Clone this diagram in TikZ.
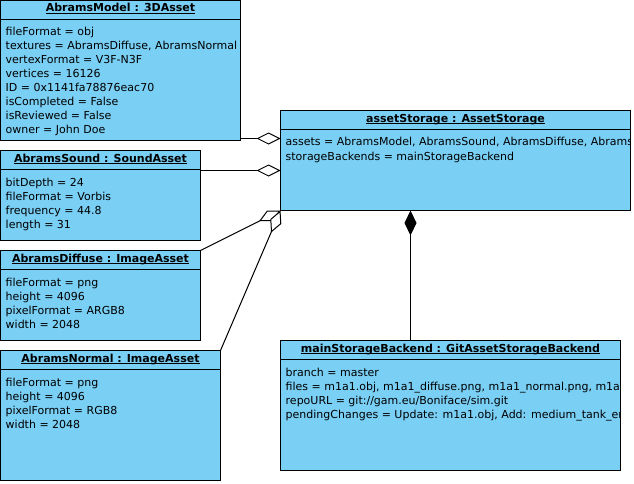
\documentclass[tikz,border=0pt]{standalone}
\usepackage{fontspec}
\setmainfont{DejaVu Sans}
\usetikzlibrary{arrows.meta,calc}
\definecolor{umlfill}{RGB}{122,207,245}
\newcommand\umlobj[6]{%
  \node[box, minimum width=#4pt, minimum height=#5pt] (#1) at (#2,#3) {};
  \draw[conn] ($(#1.north west)+(0,19)$) -- ($(#1.north east)+(0,19)$);
  \node[ttl] (#1-t) at ($(#1.north)+(0,11.5)$) {#6};
  \draw[line width=0.9pt] ([yshift=-1.3pt]#1-t.base west) -- ([yshift=-1.3pt]#1-t.base east);
}
\newcommand\umlattrs[2]{%
  \foreach \t [count=\i from 0] in {#2} {
    \node[attr] (#1-a\i) at ($(#1.north west)+(5,35.5+14*\i)$) {\t};
  }%
}
\begin{document}
\begin{tikzpicture}[x=1pt,y=-1pt,
  box/.style={draw=black, line width=1pt, fill=umlfill, inner sep=0pt, outer sep=0pt, anchor=north west},
  ttl/.style={font=\fontsize{11}{14}\selectfont\bfseries, inner sep=0pt, anchor=base},
  attr/.style={font=\fontsize{11}{14}\selectfont, inner sep=0pt, anchor=base west},
  conn/.style={line width=1pt, draw=black},
  agg/.style={conn, -{Diamond[open, fill=white, length=24pt, width=12pt]}},
  comp/.style={conn, -{Diamond[length=25pt, width=12pt]}}]
\useasboundingbox (0,0) rectangle (634,484);

\umlobj{model}{0.5}{0.5}{240}{140}{AbramsModel : 3DAsset}
\umlattrs{model}{{fileFormat = obj},{textures = AbramsDiffuse, AbramsNormal},{vertexFormat = V3F-N3F},{vertices = 16126},{ID = 0x1141fa78876eac70},{isCompleted = False},{isReviewed = False},{owner = John Doe}}

\umlobj{storage}{280.5}{110.5}{350}{100}{assetStorage : AssetStorage}
\begin{scope}
  \clip (storage.north west) rectangle (storage.south east);
  \umlattrs{storage}{{assets = AbramsModel, AbramsSound, AbramsDiffuse, AbramsNormal},{storageBackends = mainStorageBackend}}
\end{scope}

\umlobj{sound}{0.5}{150.5}{200}{90}{AbramsSound : SoundAsset}
\umlattrs{sound}{{bitDepth = 24},{fileFormat = Vorbis},{frequency = 44.8},{length = 31}}

\umlobj{diffuse}{0.5}{250.5}{200}{90}{AbramsDiffuse : ImageAsset}
\umlattrs{diffuse}{{fileFormat = png},{height = 4096},{pixelFormat = ARGB8},{width = 2048}}

\umlobj{normal}{0.5}{350.5}{220}{130}{AbramsNormal : ImageAsset}
\umlattrs{normal}{{fileFormat = png},{height = 4096},{pixelFormat = RGB8},{width = 2048}}

\umlobj{backend}{280.5}{340.5}{340}{130}{mainStorageBackend : GitAssetStorageBackend}
\begin{scope}
  \clip (backend.north west) rectangle (backend.south east);
  \umlattrs{backend}{{branch = master},{files = m1a1.obj, m1a1\_diffuse.png, m1a1\_normal.png, m1a1},{repoURL = git://gam.eu/Boniface/sim.git},{pendingChanges = Update: m1a1.obj, Add: medium\_tank\_en}}
\end{scope}

\coordinate (ms) at ([yshift=2pt]model.south east);
\draw[agg] (ms) -- (ms -| storage.west);
\coordinate (ss) at ([yshift=-20pt]sound.north east);
\draw[agg] (ss) -- (ss -| storage.west);
\draw[agg] (diffuse.north east) -- (storage.south west);
\draw[agg] (normal.north east) -- (storage.south west);
\coordinate (cs) at ([xshift=130pt]storage.south west);
\draw[comp] (cs |- backend.north) -- (cs);
\end{tikzpicture}
\end{document}
